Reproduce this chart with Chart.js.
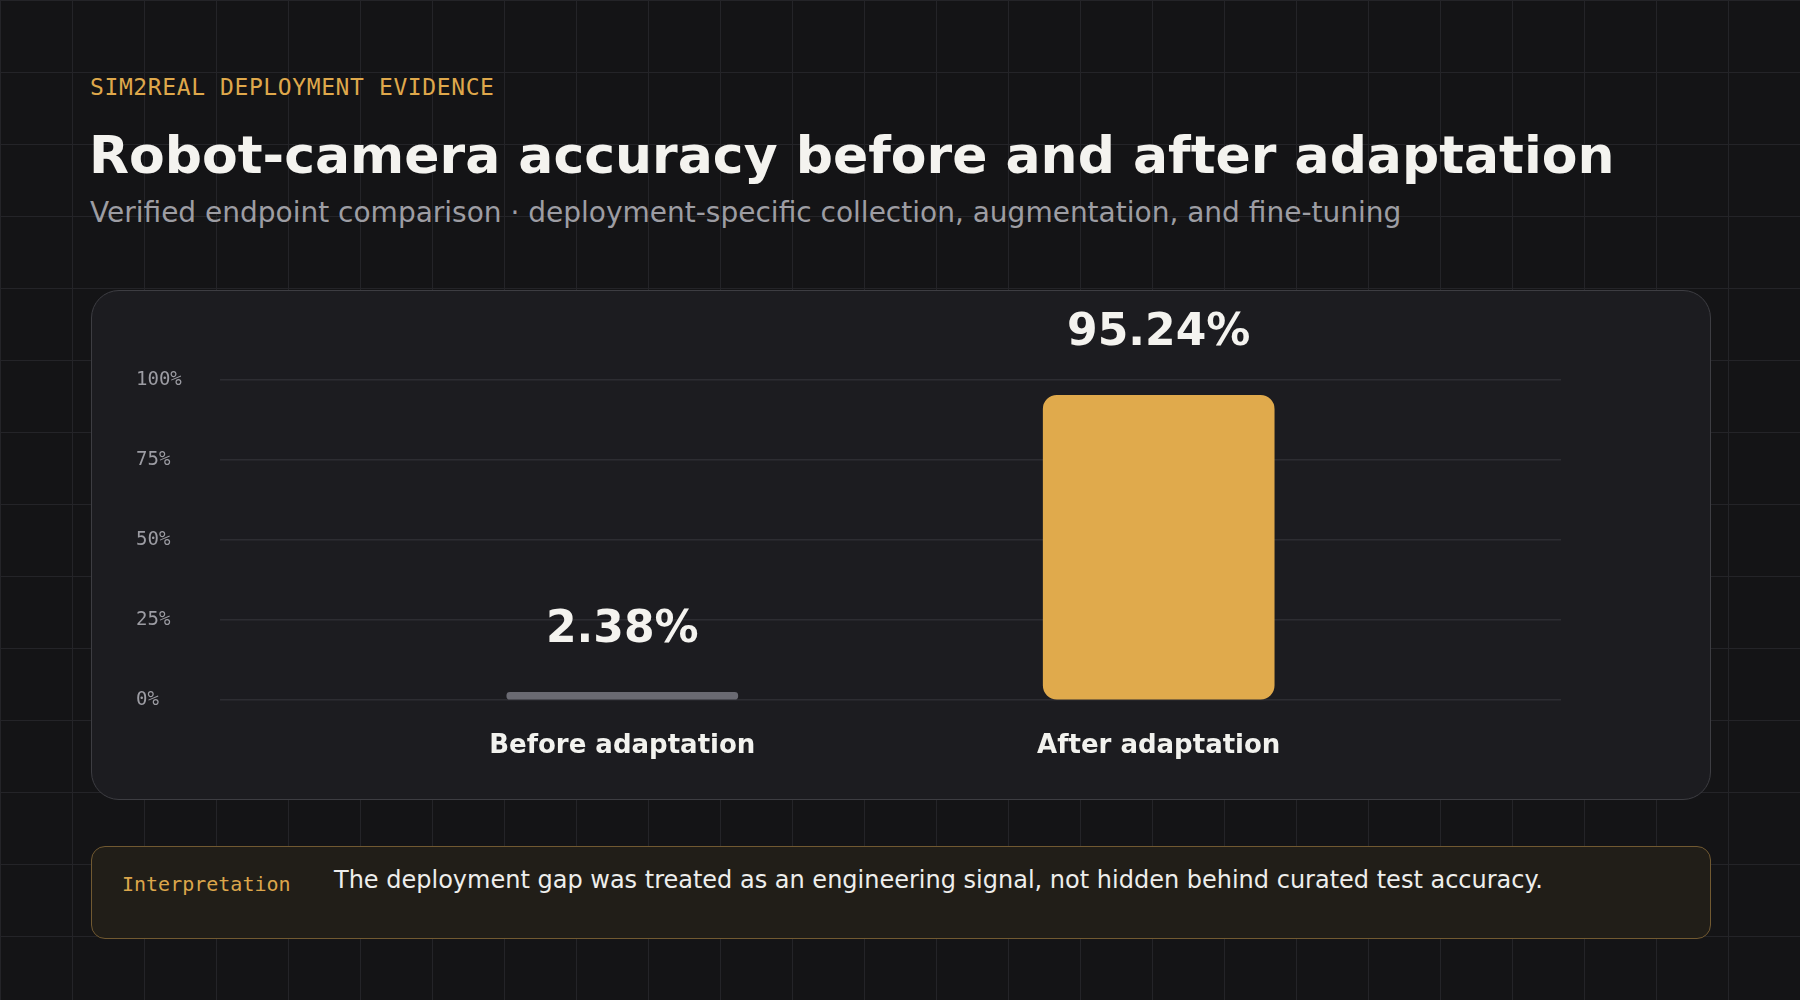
<!DOCTYPE html>
<html>
<head>
<meta charset="utf-8">
<script src="https://cdn.jsdelivr.net/npm/chart.js@4.4.1/dist/chart.umd.min.js"></script>
<style>
    html, body {
        margin: 0;
        padding: 0;
    }
    body {
        width: 1800px;
        height: 1000px;
        position: relative;
        overflow: hidden;
        background-color: #141416;
        background-image: linear-gradient(to right, #242428 1px, transparent 1px),
                          linear-gradient(to bottom, #242428 1px, transparent 1px);
        background-size: 72px 72px;
        font-family: "DejaVu Sans", sans-serif;
    }
    .kicker {
        position: absolute; left: 90px; top: 76px;
        font: 23px/1 "DejaVu Sans Mono", monospace;
        letter-spacing: 0.6px;
        color: #dfa84b;
    }
    .title {
        position: absolute; left: 89px; top: 129px;
        font: bold 52px/1 "DejaVu Sans", sans-serif;
        color: #f4f3ef;
        white-space: nowrap;
    }
    .subtitle {
        position: absolute; left: 90px; top: 199px;
        font: 28px/1 "DejaVu Sans", sans-serif;
        color: #9d9da3;
        white-space: nowrap;
    }
    .card {
        position: absolute; left: 91px; top: 290px;
        width: 1620px; height: 510px;
        box-sizing: border-box;
        border: 1.5px solid #3d3d42;
        border-radius: 28px;
        background: #1c1c20;
    }
    #chartWrap {
        position: absolute; left: 91px; top: 290px;
        width: 1620px; height: 510px;
    }
    .note {
        position: absolute; left: 91px; top: 846px;
        width: 1620px; height: 93px;
        box-sizing: border-box;
        border: 1.5px solid #715931;
        border-radius: 14px;
        background: #211e18;
    }
    .note-tag {
        position: absolute; left: 122px; top: 874px;
        font: 20px/1 "DejaVu Sans Mono", monospace;
        color: #dca64b;
    }
    .note-text {
        position: absolute; left: 334px; top: 868px;
        font: 24px/1 "DejaVu Sans", sans-serif;
        color: #eeeeec;
        white-space: nowrap;
    }
</style>
</head>
<body>
<div class="kicker">SIM2REAL DEPLOYMENT EVIDENCE</div>
<div class="title">Robot-camera accuracy before and after adaptation</div>
<div class="subtitle">Verified endpoint comparison · deployment-specific collection, augmentation, and fine-tuning</div>
<div class="card"></div>
<div id="chartWrap"><canvas id="chart"></canvas></div>
<div class="note"></div>
<div class="note-tag">Interpretation</div>
<div class="note-text">The deployment gap was treated as an engineering signal, not hidden behind curated test accuracy.</div>

<script>
    // data
    const categories = ["Before adaptation", "After adaptation"];
    const accuracy = [2.38, 95.24];
    const barColors = ["#6a6a72", "#e0aa4c"];
    const yTicks = [0, 25, 50, 75, 100];

    // value labels above each bar
    const valueLabels = {
        id: "valueLabels",
        afterDatasetsDraw: function (chart) {
            const ctx = chart.ctx;
            const meta = chart.getDatasetMeta(0);
            ctx.save();
            ctx.font = "bold 44px 'DejaVu Sans'";
            ctx.fillStyle = "#f4f3ef";
            ctx.textAlign = "center";
            ctx.textBaseline = "alphabetic";
            meta.data.forEach(function (bar, i) {
                ctx.fillText(accuracy[i].toFixed(2) + "%", bar.x, bar.y - 50);
            });
            ctx.restore();
        }
    };

    new Chart(document.getElementById("chart").getContext("2d"), {
        type: "bar",
        data: {
            labels: categories,
            datasets: [{
                data: accuracy,
                backgroundColor: barColors,
                borderRadius: 14,
                borderSkipped: false,
                barThickness: 231
            }]
        },
        options: {
            responsive: true,
            maintainAspectRatio: false,
            animation: false,
            layout: {padding: {left: 45, right: 150, top: 90, bottom: 0}},
            plugins: {
                legend: {display: false},
                tooltip: {enabled: false}
            },
            scales: {
                x: {
                    grid: {display: false},
                    border: {display: false},
                    ticks: {
                        color: "#f2f2ee",
                        font: {family: "DejaVu Sans", size: 26, weight: "bold"},
                        padding: 23
                    },
                    // spread the two categories to 30% / 70% of the plot width
                    afterBuildTicks: function (scale) {
                        scale._startValue = -0.75;
                        scale._valueRange = 2.5;
                    },
                    afterFit: function (scale) {
                        scale.height = 100;
                    }
                },
                y: {
                    min: 0,
                    max: 100,
                    afterBuildTicks: function (scale) {
                        scale.ticks = yTicks.map(function (v) { return {value: v}; });
                    },
                    grid: {color: "#2d2d32", lineWidth: 1.5, drawTicks: false},
                    border: {display: false},
                    ticks: {
                        color: "#9c9ca3",
                        font: {family: "DejaVu Sans Mono", size: 19},
                        crossAlign: "far",
                        callback: function (v) { return v + "%"; }
                    },
                    afterFit: function (scale) {
                        scale.width = 84;
                    }
                }
            }
        },
        plugins: [valueLabels]
    });
</script>
</body>
</html>
